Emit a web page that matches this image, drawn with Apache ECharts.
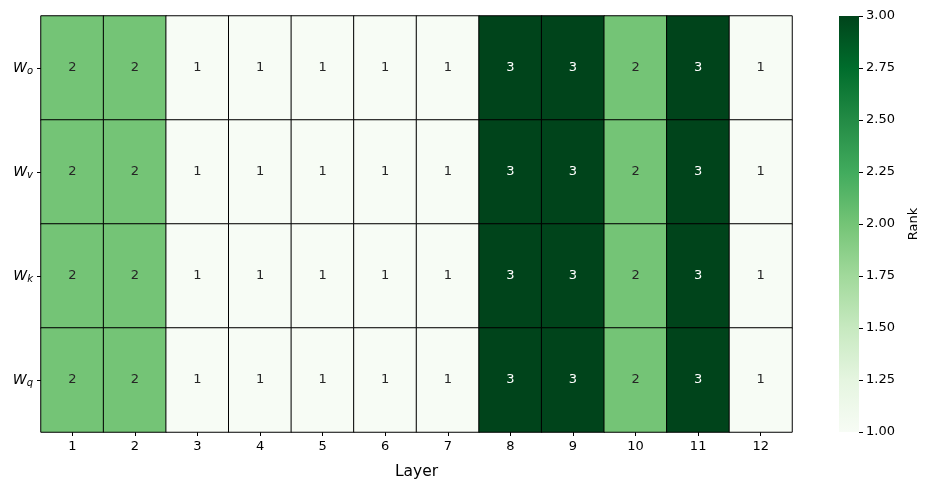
<!DOCTYPE html>
<html>
<head>
<meta charset="utf-8">
<script src="https://cdn.jsdelivr.net/npm/echarts@6/dist/echarts.min.js"></script>
<style>html,body{margin:0;padding:0;background:#fff;}#c{width:930px;height:490px;}</style>
</head>
<body>
<div id="c"></div>
<script>
const layers = ['1','2','3','4','5','6','7','8','9','10','11','12'];
const matrices = ['o','v','k','q'];
const rankWo = [2,2,1,1,1,1,1,3,3,2,3,1];
const rankWv = [2,2,1,1,1,1,1,3,3,2,3,1];
const rankWk = [2,2,1,1,1,1,1,3,3,2,3,1];
const rankWq = [2,2,1,1,1,1,1,3,3,2,3,1];
const colorbarTicks = [1.00,1.25,1.50,1.75,2.00,2.25,2.50,2.75,3.00];
const greens = ['#f7fcf5','#e5f5e0','#c7e9c0','#a1d99b','#74c476','#41ab5d','#238b45','#006d2c','#00441b'];

const rows = [rankWo, rankWv, rankWk, rankWq];
const data = [];
rows.forEach((r, yi) => r.forEach((v, xi) => {
  data.push({value: [xi, yi, v], label: {color: v >= 2.5 ? '#ffffff' : '#262626'}});
}));

const cbMin = colorbarTicks[0], cbMax = colorbarTicks[colorbarTicks.length - 1];
const gradStops = greens.map((c, i) => ({offset: 1 - i / (greens.length - 1), color: c}));

const font = 'DejaVu Sans';
const chart = echarts.init(document.getElementById('c'), null, {renderer: 'canvas'});
chart.setOption({
  animation: false,
  backgroundColor: '#fff',
  textStyle: {fontFamily: font},
  grid: [
    {left: 41, top: 16, width: 751, height: 416},
    {left: 839, top: 16, width: 20, height: 416}
  ],
  xAxis: [
    {type: 'category', data: layers, gridIndex: 0,
     axisLine: {show: false}, splitLine: {show: false},
     axisTick: {show: true, alignWithLabel: true, length: 4, lineStyle: {color: '#000'}},
     axisLabel: {color: '#000', fontSize: 13, margin: 8, fontFamily: font},
     name: 'Layer', nameLocation: 'middle', nameGap: 32,
     nameTextStyle: {color: '#000', fontSize: 15.5, fontFamily: font}},
    {type: 'category', gridIndex: 1, show: false, data: ['cb']}
  ],
  yAxis: [
    {type: 'category', data: matrices, gridIndex: 0, inverse: true,
     axisLine: {show: false}, splitLine: {show: false},
     axisTick: {show: true, alignWithLabel: true, length: 4, lineStyle: {color: '#000'}},
     axisLabel: {margin: 8, formatter: v => '{w|W}{s|' + v + '}',
       rich: {w: {fontStyle: 'italic', fontSize: 14, color: '#000', fontFamily: font},
              s: {fontStyle: 'italic', fontSize: 10, color: '#000', fontFamily: font, verticalAlign: 'bottom', padding: [7, 0, 0, 0]}}}},
    {type: 'value', gridIndex: 1, min: cbMin, max: cbMax,
     interval: 0.25, position: 'right',
     axisLine: {show: false}, splitLine: {show: false},
     axisTick: {show: true, length: 4, lineStyle: {color: '#000'}},
     axisLabel: {color: '#000', fontSize: 13, margin: 7, fontFamily: font, formatter: v => v.toFixed(2)},
     name: 'Rank', nameLocation: 'middle', nameGap: 48, nameRotate: 90,
     nameTextStyle: {color: '#000', fontSize: 13, fontFamily: font}}
  ],
  visualMap: {
    type: 'continuous', min: cbMin, max: cbMax, seriesIndex: 0, show: false,
    inRange: {color: greens}
  },
  series: [
    {
      type: 'heatmap', xAxisIndex: 0, yAxisIndex: 0,
      data: data,
      itemStyle: {borderColor: '#000', borderWidth: 1},
      label: {show: true, fontSize: 13, fontFamily: font, formatter: p => String(p.value[2])},
      emphasis: {disabled: true}
    },
    {
      type: 'bar', xAxisIndex: 1, yAxisIndex: 1, stack: 'cb', barWidth: '100%',
      data: [cbMin], itemStyle: {color: 'rgba(0,0,0,0)'}, silent: true
    },
    {
      type: 'bar', xAxisIndex: 1, yAxisIndex: 1, stack: 'cb', barWidth: '100%',
      data: [cbMax - cbMin], silent: true,
      itemStyle: {color: new echarts.graphic.LinearGradient(0, 0, 0, 1, gradStops)}
    }
  ]
});
</script>
</body>
</html>
